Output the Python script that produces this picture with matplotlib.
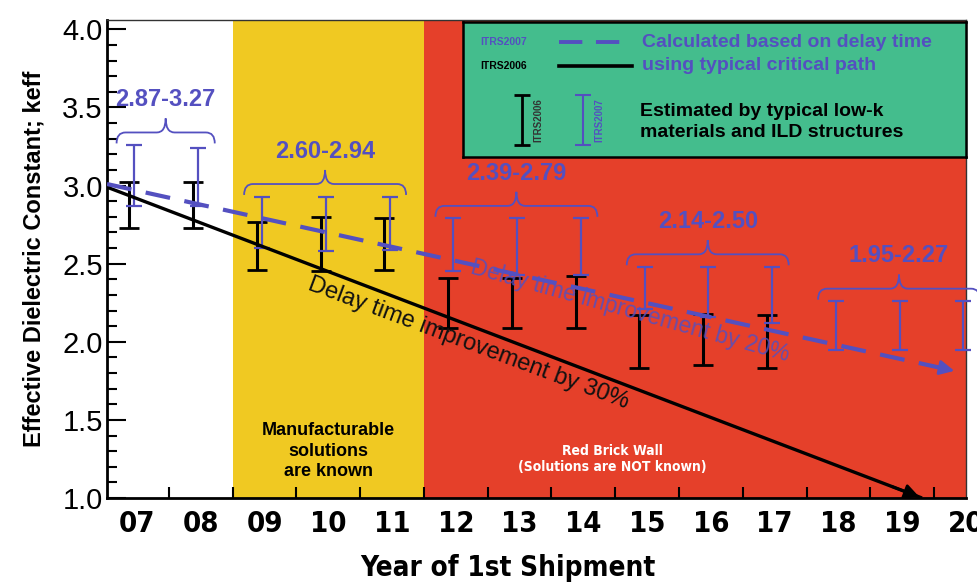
import matplotlib.pyplot as plt
from matplotlib.path import Path
from matplotlib.patches import PathPatch
from matplotlib.ticker import MultipleLocator, FixedLocator

plt.rcParams['font.family'] = ['Liberation Sans', 'DejaVu Sans']
NARROW = dict(family='DejaVu Sans', fontstretch='condensed')

# ITRS2006 estimated keff ranges (black bars)
years_2006 = [7, 8, 9, 10, 11, 12, 13, 14, 15, 16, 17]
lo_2006 = [2.73, 2.73, 2.46, 2.45, 2.46, 2.09, 2.09, 2.09, 1.83, 1.85, 1.83]
hi_2006 = [3.02, 3.02, 2.77, 2.80, 2.79, 2.41, 2.41, 2.42, 2.17, 2.18, 2.17]

# ITRS2007 estimated keff ranges (blue bars)
years_2007 = [7, 8, 9, 10, 11, 12, 13, 14, 15, 16, 17, 18, 19, 20]
lo_2007 = [2.87, 2.87, 2.60, 2.58, 2.59, 2.45, 2.43, 2.43, 2.21, 2.16, 2.12, 1.95, 1.95, 1.95]
hi_2007 = [3.26, 3.24, 2.93, 2.93, 2.93, 2.79, 2.79, 2.79, 2.48, 2.48, 2.48, 2.26, 2.26, 2.26]

# braces over the ITRS2007 groups
group_first = [7, 9, 12, 15, 18]
group_last = [8, 11, 14, 17, 20]
group_labels = ['2.87-3.27', '2.60-2.94', '2.39-2.79', '2.14-2.50', '1.95-2.27']

# trend lines: start and arrow tip
trend30_x = [6.53, 19.31]
trend30_k = [2.99, 1.00]
trend20_x = [6.53, 19.86]
trend20_k = [3.01, 1.81]

known_years = [9, 10, 11]
wall_years = [12, 13, 14, 15, 16, 17, 18, 19, 20]
tick_years = list(range(7, 21))
tick_labels = ['%02d' % y for y in tick_years]

BLUE = '#5450c0'
YELLOW = '#f0c922'
RED = '#e5402a'
GREEN = '#44bd8d'


def brace(ax, x0, x1, y, color):
    # curly brace opening downward, tips at y
    xm = x0 + (x1 - x0) / 2
    r = 0.14
    yt, yh, yp = y + 0.01, y + 0.08, y + 0.17
    verts = [(x0, yt), (x0, yh), (x0 + r, yh), (xm - r, yh), (xm, yh), (xm, yp),
             (xm, yh), (xm + r, yh), (x1 - r, yh), (x1, yh), (x1, yt)]
    codes = [Path.MOVETO, Path.CURVE3, Path.CURVE3, Path.LINETO, Path.CURVE3, Path.CURVE3,
             Path.CURVE3, Path.CURVE3, Path.LINETO, Path.CURVE3, Path.CURVE3]
    ax.add_patch(PathPatch(Path(verts, codes), fill=False, edgecolor=color,
                           lw=1.3, clip_on=False, zorder=4))
    return xm, yp


fig = plt.figure(figsize=(9.78, 5.83), dpi=100)
ax = fig.add_axes([107 / 978, 1 - 498 / 583, 859 / 978, 478 / 583])

ax.set_xlim(6.53, 20.0)
ax.set_ylim(1.0, 4.06)

ax.axvspan(min(known_years) - 0.5, max(known_years) + 0.5, color=YELLOW, lw=0, zorder=0)
ax.axvspan(min(wall_years) - 0.5, max(wall_years) + 0.5, color=RED, lw=0, zorder=0)

# error bars
x06 = [y - 0.12 for y in years_2006]
ax.errorbar(x06, [(a + b) / 2 for a, b in zip(lo_2006, hi_2006)],
            yerr=[(b - a) / 2 for a, b in zip(lo_2006, hi_2006)],
            fmt='none', ecolor='black', elinewidth=2.2, capsize=7, capthick=2, zorder=3)
x07 = [y - 0.04 for y in years_2007]
eb = ax.errorbar(x07, [(a + b) / 2 for a, b in zip(lo_2007, hi_2007)],
                 yerr=[(b - a) / 2 for a, b in zip(lo_2007, hi_2007)],
                 fmt='none', ecolor=BLUE, elinewidth=1.6, capsize=6, capthick=1.6, zorder=3)
for art in eb.lines[1] + eb.lines[2]:
    art.set_clip_on(False)

# braces and range labels
for first, last, lab in zip(group_first, group_last, group_labels):
    top = max(h for y, h in zip(years_2007, hi_2007) if first <= y <= last)
    xm, yp = brace(ax, first - 0.32, last + 0.22, top, BLUE)
    ax.text(xm, yp + 0.12, lab, color=BLUE, fontsize=17, fontweight='bold',
            ha='center', va='center', zorder=5)

# trend lines
ax.plot(trend30_x, trend30_k, color='black', lw=2.4, zorder=4, solid_capstyle='butt')
ax.annotate('', xy=(trend30_x[1], trend30_k[1]),
            xytext=(trend30_x[1] - 0.04 * (trend30_x[1] - trend30_x[0]),
                    trend30_k[1] - 0.04 * (trend30_k[1] - trend30_k[0])),
            arrowprops=dict(arrowstyle='-|>', color='black', lw=2, mutation_scale=22),
            annotation_clip=False, zorder=4)
ax.plot(trend20_x, trend20_k, color=BLUE, lw=3, ls=(0, (6, 3.5)), zorder=4)
ax.annotate('', xy=(trend20_x[1], trend20_k[1]),
            xytext=(trend20_x[1] - 0.03 * (trend20_x[1] - trend20_x[0]),
                    trend20_k[1] - 0.03 * (trend20_k[1] - trend20_k[0])),
            arrowprops=dict(arrowstyle='-|>', color=BLUE, lw=2, mutation_scale=22),
            annotation_clip=False, zorder=4)

ax.text(12.2, 1.99, 'Delay time improvement by 30%', rotation=-20.5, fontsize=17,
        ha='center', va='center', color='#111111', zorder=5, rotation_mode='anchor')
ax.text(14.73, 2.2, 'Delay time improvement by 20%', rotation=-15.5, fontsize=16.5,
        ha='center', va='center', color=BLUE, alpha=0.85, zorder=5, rotation_mode='anchor')

ax.text(10.0, 1.3, 'Manufacturable\nsolutions\nare known', fontsize=13,
        fontweight='bold', ha='center', va='center', linespacing=1.25, zorder=5)
ax.text(14.45, 1.25, 'Red Brick Wall\n(Solutions are NOT known)', fontsize=10,
        fontweight='bold', color='white', ha='center', va='center', linespacing=1.15,
        zorder=5, **NARROW)

# axes styling
ax.yaxis.set_major_locator(MultipleLocator(0.5))
ax.yaxis.set_minor_locator(MultipleLocator(0.1))
ax.yaxis.set_major_formatter(lambda v, p: '%.1f' % v)
ax.tick_params(axis='y', which='major', direction='in', length=14, width=1.5,
               labelsize=21, pad=3)
ax.tick_params(axis='y', which='minor', direction='in', length=7, width=1.5)
ax.xaxis.set_major_locator(FixedLocator(tick_years))
ax.set_xticklabels(tick_labels, fontweight='bold', fontsize=21, **NARROW)
ax.xaxis.set_minor_locator(FixedLocator([y + 0.5 for y in tick_years]))
ax.tick_params(axis='x', which='major', length=0, pad=9)
ax.tick_params(axis='x', which='minor', direction='in', length=8, width=1.5)
ax.set_xlabel('Year of 1st Shipment', fontweight='bold', fontsize=20, **NARROW)
ax.xaxis.set_label_coords(0.467, -0.118)
ax.set_ylabel('Effective Dielectric Constant; keff', fontweight='bold', fontsize=17,
              labelpad=12)
for side in ['left', 'bottom']:
    ax.spines[side].set_linewidth(2)
for side in ['top', 'right']:
    ax.spines[side].set_linewidth(1)
    ax.spines[side].set_color('#333333')

# legend box
lg = fig.add_axes([463 / 978, 1 - 157 / 583, 503 / 978, 135 / 583])
lg.set_facecolor(GREEN)
lg.set_xlim(0, 1)
lg.set_ylim(0, 1)
lg.set_xticks([])
lg.set_yticks([])
for s in lg.spines.values():
    s.set_linewidth(1.8)
lg.text(0.035, 0.85, 'ITRS2007', color=BLUE, fontsize=7.5, fontweight='bold', va='center')
lg.plot([0.19, 0.335], [0.85, 0.85], color=BLUE, lw=2.8, ls=(0, (6, 3.5)))
lg.text(0.355, 0.85, 'Calculated based on delay time', color=BLUE, fontsize=14,
        fontweight='bold', va='center')
lg.text(0.035, 0.675, 'ITRS2006', color='black', fontsize=7.5, fontweight='bold', va='center')
lg.plot([0.19, 0.335], [0.675, 0.675], color='black', lw=2.6)
lg.text(0.355, 0.675, 'using typical critical path', color=BLUE, fontsize=14,
        fontweight='bold', va='center')
lg.errorbar([0.117], [0.275], yerr=[0.185], fmt='none', ecolor='black', elinewidth=2,
            capsize=6, capthick=2)
lg.text(0.15, 0.275, 'ITRS2006', rotation=90, fontsize=7, color='#333333',
        fontweight='bold', ha='center', va='center')
lg.errorbar([0.238], [0.275], yerr=[0.185], fmt='none', ecolor=BLUE, elinewidth=1.5,
            capsize=6, capthick=1.5)
lg.text(0.272, 0.275, 'ITRS2007', rotation=90, fontsize=7, color=BLUE,
        fontweight='bold', ha='center', va='center')
lg.text(0.352, 0.26, 'Estimated by typical low-k\nmaterials and ILD structures',
        color='black', fontsize=14, fontweight='bold', va='center', linespacing=1.25)

fig.savefig('out.png', dpi=100)
